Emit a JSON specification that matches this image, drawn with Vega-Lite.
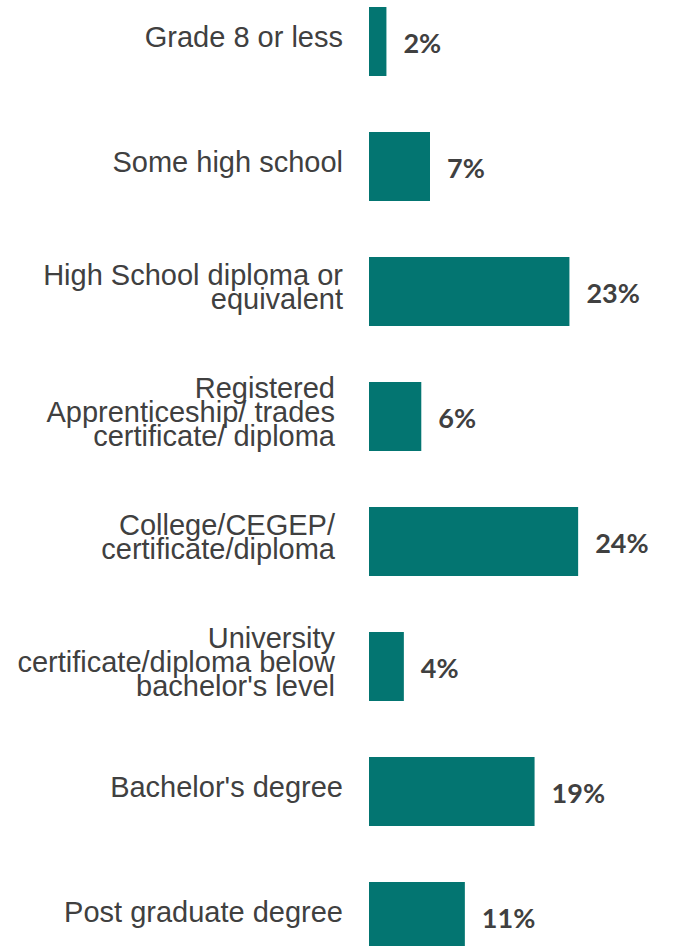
{
  "$schema": "https://vega.github.io/schema/vega-lite/v6.json",
  "autosize": {"type": "none"},
  "padding": {"left": 369, "top": 7, "right": 0, "bottom": 0},
  "width": 305,
  "height": 944,
  "background": "white",
  "config": {"view": {"stroke": null}},
  "data": {
    "values": [
      {"level": "Grade 8 or less", "pct": 0.02},
      {"level": "Some high school", "pct": 0.07},
      {"level": "High School diploma or|equivalent", "pct": 0.23},
      {"level": "Registered|Apprenticeship/ trades|certificate/ diploma", "pct": 0.06},
      {"level": "College/CEGEP/|certificate/diploma", "pct": 0.24},
      {"level": "University|certificate/diploma below|bachelor's level", "pct": 0.04},
      {"level": "Bachelor's degree", "pct": 0.19},
      {"level": "Post graduate degree", "pct": 0.11}
    ]
  },
  "encoding": {
    "y": {
      "field": "level",
      "type": "nominal",
      "sort": null,
      "scale": {"paddingInner": 0.448, "paddingOuter": 0},
      "axis": null
    }
  },
  "layer": [
    {
      "mark": {"type": "bar", "color": "#037571"},
      "encoding": {
        "x": {"field": "pct", "type": "quantitative", "scale": {"domain": [0, 0.35]}, "axis": null}
      }
    },
    {
      "mark": {
        "type": "text",
        "align": "left",
        "baseline": "middle",
        "dx": 17,
        "dy": 3,
        "font": "Lato",
        "fontWeight": "bold",
        "fontSize": 27,
        "color": "#404040"
      },
      "encoding": {
        "x": {"field": "pct", "type": "quantitative"},
        "text": {"field": "pct", "type": "quantitative", "format": ".0%"}
      }
    },
    {
      "mark": {
        "type": "text",
        "align": "right",
        "baseline": "middle",
        "lineBreak": "|",
        "lineHeight": 24,
        "font": "Liberation Sans",
        "fontSize": 29,
        "color": "#404040",
        "dx": {"expr": "(length(split(datum.level, '|')) == 3 || indexof(datum.level, 'College') == 0) ? -34 : -26"},
        "dy": {"expr": "-4 - (length(split(datum.level, '|')) - 1) * 12"}
      },
      "encoding": {
        "x": {"datum": 0, "type": "quantitative"},
        "text": {"field": "level", "type": "nominal"}
      }
    }
  ]
}
